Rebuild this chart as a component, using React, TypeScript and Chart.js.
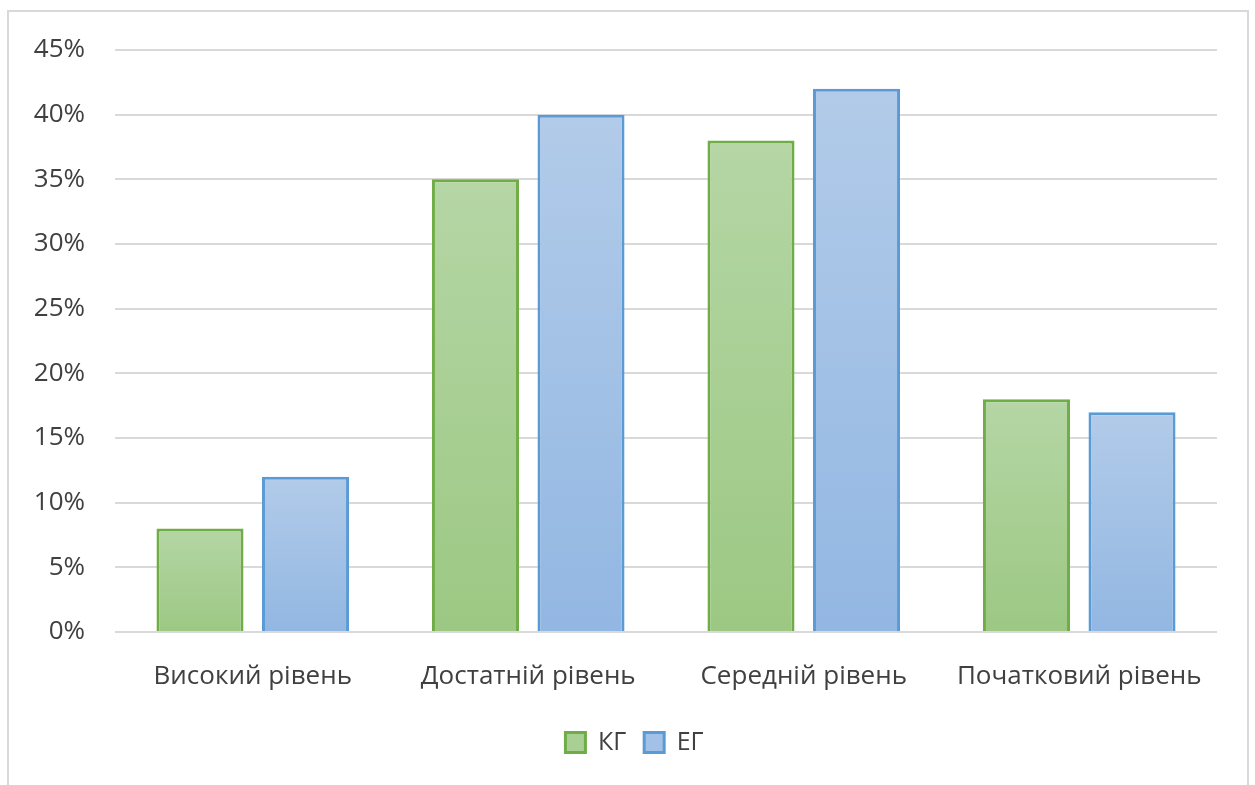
import React, { useEffect, useRef } from "react";
import { Chart, registerables } from "chart.js";

Chart.register(...registerables);

const categories = ["Високий рівень", "Достатній рівень", "Середній рівень", "Початковий рівень"];
const seriesNames = ["КГ", "ЕГ"];
const kgValues = [8, 35, 38, 18];
const egValues = [12, 40, 42, 17];
const yTicks = [0, 5, 10, 15, 20, 25, 30, 35, 40, 45];

const FONT = "'Open Sans', 'Noto Sans', sans-serif";
const TEXT = "#404040";

const palettes = [
  { top: "#b5d6a5", bottom: "#9cc883", border: "#70ad47", legend: "#a9cf94" },
  { top: "#b2cbe9", bottom: "#92b7e2", border: "#5b9bd5", legend: "#a3c1e6" },
];

function barGradient(index: number) {
  return (ctx: any) => {
    const p = palettes[index];
    const chart = ctx.chart;
    const { chartArea, scales } = chart;
    if (!chartArea || ctx.type !== "data" || !scales.y) return p.legend;
    const value = ctx.raw as number;
    const yTop = scales.y.getPixelForValue(value);
    const yBase = scales.y.getPixelForValue(0);
    if (!isFinite(yTop) || !isFinite(yBase) || yBase - yTop < 1) return p.legend;
    const g = chart.ctx.createLinearGradient(0, yTop, 0, yBase);
    g.addColorStop(0, p.top);
    g.addColorStop(1, p.bottom);
    return g;
  };
}

// Centre the legend under the whole frame rather than the padded canvas area.
const legendShift = {
  id: "legendShift",
  afterUpdate(chart: any) {
    const l = chart.legend;
    if (!l) return;
    l.left += 26;
    l.right += 26;
  },
};

export default function App() {
  const canvasRef = useRef<HTMLCanvasElement | null>(null);

  useEffect(() => {
    if (!canvasRef.current) return;
    const chart = new Chart(canvasRef.current, {
      type: "bar",
      data: {
        labels: categories,
        datasets: [kgValues, egValues].map((values, i) => ({
          label: seriesNames[i],
          data: values,
          backgroundColor: barGradient(i),
          borderColor: palettes[i].border,
          borderWidth: 3,
          borderSkipped: "bottom",
          categoryPercentage: 0.766,
          barPercentage: 0.825,
        })),
      },
      options: {
        responsive: false,
        animation: false,
        maintainAspectRatio: false,
        layout: { padding: { left: 0, right: 38, top: 50, bottom: 20 } },
        plugins: {
          tooltip: { enabled: false },
          legend: {
            position: "bottom",
            labels: {
              boxWidth: 20,
              boxHeight: 20,
              padding: 18,
              color: TEXT,
              font: { family: FONT, size: 25 },
              generateLabels: (c: any) => {
                const items = Chart.defaults.plugins.legend.labels.generateLabels(c);
                return items.map((it: any, i: number) => ({
                  ...it,
                  fillStyle: palettes[i].legend,
                  strokeStyle: palettes[i].border,
                  lineWidth: 3,
                }));
              },
            },
          },
        },
        scales: {
          x: {
            grid: { display: false, drawTicks: false },
            border: { display: false },
            ticks: { color: TEXT, font: { family: FONT, size: 26 }, padding: 29, maxRotation: 0 },
            afterFit: (s: any) => {
              s.height = 80;
            },
          },
          y: {
            min: 0,
            max: 45,
            afterBuildTicks: (s: any) => {
              s.ticks = yTicks.map((v) => ({ value: v }));
            },
            grid: { color: "#d9d9d9", lineWidth: 2, drawTicks: false },
            border: { display: false },
            ticks: {
              color: TEXT,
              font: { family: FONT, size: 26 },
              padding: 30,
              callback: (v: any) => `${v}%`,
            },
            afterFit: (s: any) => {
              s.width = 115;
            },
          },
        },
      },
      plugins: [legendShift],
    });
    return () => chart.destroy();
  }, []);

  return (
    <div
      style={{
        position: "absolute",
        left: 0,
        top: 0,
        width: 1255,
        height: 785,
        overflow: "hidden",
        background: "#ffffff",
      }}
    >
      <div
        style={{
          position: "absolute",
          left: 7,
          top: 10,
          width: 1238,
          height: 800,
          border: "2px solid #d9d9d9",
        }}
      />
      <canvas
        ref={canvasRef}
        width={1255}
        height={785}
        style={{ position: "absolute", left: 0, top: 0, width: 1255, height: 785 }}
      />
    </div>
  );
}
